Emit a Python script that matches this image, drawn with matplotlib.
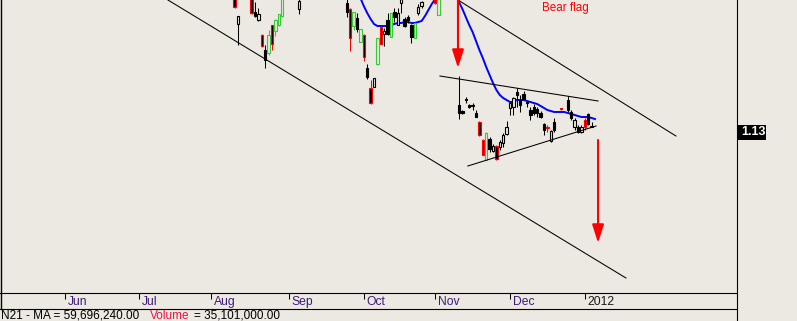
import numpy as np
import pandas as pd
import matplotlib
matplotlib.use('Agg')
import matplotlib.pyplot as plt
from matplotlib.lines import Line2D
from matplotlib.patches import Rectangle
from matplotlib.transforms import blended_transform_factory

plt.rcParams['font.family'] = ['Liberation Sans', 'DejaVu Sans']

# bar number = trading day counted from 2011-05-05
bars = [69, 70, 74, 75, 76, 77, 78, 79, 80, 81, 82, 83, 88,
        102, 103, 104, 105, 106, 107, 108, 109, 110, 111, 112, 113,
        114, 115, 116, 117, 118, 119, 120, 121, 122, 123, 124, 128, 129,
        135, 136, 137, 138, 139, 140, 141, 142, 143, 144, 145, 146, 147,
        148, 149, 150, 151, 152, 153, 154, 155, 156, 157, 158, 159, 160,
        161, 162, 163, 165, 167, 168, 169, 170, 171, 172, 173, 174, 175]
opens = [1.401, 1.343, 1.397, 1.367, 1.351, 1.321, 1.291, 1.285, 1.341, 1.329, 1.341, 1.359, 1.373,
         1.385, 1.373, 1.339, 1.355, 1.307, 1.321, 1.255, 1.215, 1.217, 1.263, 1.337, 1.323,
         1.351, 1.317, 1.367, 1.341, 1.385, 1.353, 1.357, 1.341, 1.315, 1.365, 1.379, 1.393, 1.361,
         1.181, 1.169, 1.193, 1.181, 1.181, 1.165, 1.147, 1.111, 1.071, 1.113, 1.089, 1.099, 1.097,
         1.105, 1.123, 1.175, 1.177, 1.201, 1.191, 1.203, 1.187, 1.171, 1.177, 1.173, 1.165, 1.143,
         1.137, 1.129, 1.131, 1.173, 1.191, 1.167, 1.151, 1.127, 1.137, 1.137, 1.163, 1.139, 1.137]
highs = [1.407, 1.359, 1.399, 1.387, 1.375, 1.323, 1.301, 1.331, 1.341, 1.353, 1.363, 1.405, 1.395,
         1.395, 1.375, 1.367, 1.365, 1.333, 1.323, 1.263, 1.231, 1.235, 1.315, 1.339, 1.335,
         1.365, 1.365, 1.375, 1.375, 1.395, 1.357, 1.361, 1.343, 1.345, 1.383, 1.389, 1.395, 1.401,
         1.239, 1.171, 1.197, 1.183, 1.185, 1.171, 1.149, 1.113, 1.127, 1.117, 1.103, 1.101, 1.111,
         1.125, 1.149, 1.187, 1.197, 1.215, 1.201, 1.209, 1.189, 1.177, 1.183, 1.177, 1.169, 1.145,
         1.141, 1.131, 1.155, 1.175, 1.199, 1.171, 1.155, 1.141, 1.141, 1.155, 1.165, 1.147, 1.139]
lows = [1.375, 1.301, 1.363, 1.357, 1.349, 1.297, 1.255, 1.281, 1.291, 1.319, 1.339, 1.357, 1.363,
        1.357, 1.289, 1.331, 1.327, 1.307, 1.269, 1.233, 1.183, 1.217, 1.261, 1.303, 1.299,
        1.321, 1.317, 1.347, 1.341, 1.365, 1.337, 1.345, 1.305, 1.315, 1.361, 1.375, 1.383, 1.361,
        1.153, 1.163, 1.185, 1.175, 1.171, 1.157, 1.119, 1.081, 1.071, 1.087, 1.087, 1.071, 1.091,
        1.097, 1.121, 1.161, 1.161, 1.177, 1.167, 1.191, 1.177, 1.151, 1.161, 1.157, 1.155, 1.121,
        1.127, 1.107, 1.127, 1.171, 1.167, 1.151, 1.131, 1.125, 1.125, 1.131, 1.141, 1.137, 1.125]
closes = [1.377, 1.359, 1.365, 1.359, 1.363, 1.299, 1.271, 1.321, 1.303, 1.351, 1.363, 1.399, 1.389,
          1.367, 1.315, 1.367, 1.333, 1.333, 1.277, 1.237, 1.185, 1.235, 1.315, 1.303, 1.329,
          1.323, 1.365, 1.357, 1.365, 1.393, 1.339, 1.351, 1.317, 1.345, 1.377, 1.387, 1.385, 1.397,
          1.165, 1.165, 1.191, 1.177, 1.179, 1.157, 1.121, 1.081, 1.125, 1.093, 1.099, 1.073, 1.107,
          1.121, 1.137, 1.185, 1.195, 1.207, 1.181, 1.193, 1.185, 1.161, 1.165, 1.165, 1.157, 1.131,
          1.135, 1.109, 1.147, 1.173, 1.171, 1.155, 1.137, 1.137, 1.127, 1.151, 1.143, 1.137, 1.127]
kinds = list('rwrkwrkgrgggw'
             'krgkgrkrwgrw'
             'kgkwwkkkgwwrg'
             'kkkkkkrrgkwrw'
             'wwwwkkkkkkkk'
             'krwkrkkwkwrkk')

ma_start = 106
ma_vals = [1.395, 1.379, 1.365, 1.353, 1.343, 1.339, 1.339, 1.339, 1.339, 1.341,
           1.343, 1.345, 1.345, 1.347, 1.347, 1.345, 1.345, 1.347, 1.349, 1.359,
           1.371, 1.383, 1.393, 1.405, 1.416, 1.424, 1.427, 1.423, 1.405, 1.387,
           1.373, 1.357, 1.341, 1.327, 1.309, 1.291, 1.275, 1.257, 1.241, 1.225,
           1.211, 1.201, 1.195, 1.191, 1.187, 1.187, 1.191, 1.191, 1.191, 1.189,
           1.187, 1.185, 1.183, 1.179, 1.175, 1.171, 1.169, 1.167, 1.167, 1.167,
           1.167, 1.165, 1.163, 1.161, 1.159, 1.157, 1.157, 1.157, 1.155, 1.153]

# drawn trend lines: (bar0, price0, bar1, price1)
trend_lines = [(49.4, 1.391, 184.1, 0.835),
               (134.7, 1.391, 198.8, 1.119),
               (129.4, 1.239, 175.9, 1.189),
               (137.6, 1.059, 175.3, 1.139)]
arrow_bars = [134.7, 175.9]
arrow_tops = [1.40, 1.111]
arrow_tips = [1.255, 0.905]

dates = pd.bdate_range('2011-05-05', periods=217)
month_pos = [i for i in range(1, bars[-1] + 1) if dates[i].month != dates[i - 1].month]
month_lab = [str(dates[i].year) if dates[i].month == 1 else dates[i].strftime('%b') for i in month_pos]

bg = '#ece8e2'
W, H = 797, 321
fig = plt.figure(figsize=(W / 100, H / 100), dpi=100, facecolor=bg)
ax = fig.add_axes([0, 28 / H, 736 / W, 293 / H], facecolor=bg)
ax.set_xlim(0, 736 / 3.4)
ax.set_ylim(0.805, 1.391)

edge = {'k': 'black', 'w': 'black', 'r': '#ff0000', 'g': '#33cc33'}
face = {'k': 'black', 'w': bg, 'r': 'black', 'g': bg}

for x, o, hi, lo, c, k in zip(bars, opens, highs, lows, closes, kinds):
    ax.vlines(x, lo, hi, color=edge[k], lw=0.75, zorder=3)
    ax.bar(x, max(abs(c - o), 0.0012), bottom=min(o, c), width=0.72,
           color=face[k], edgecolor=edge[k], linewidth=0.8, zorder=4)

ax.plot(np.arange(ma_start, ma_start + len(ma_vals)), ma_vals, color='#0000ff', lw=1.4, zorder=2)

for x0, y0, x1, y1 in trend_lines:
    ax.plot([x0, x1], [y0, y1], color='black', lw=0.75, zorder=5)

for x, top, tip in zip(arrow_bars, arrow_tops, arrow_tips):
    ax.annotate('', xy=(x, tip), xytext=(x, top), annotation_clip=False,
                arrowprops=dict(arrowstyle='-|>,head_length=1.1,head_width=0.35',
                                mutation_scale=10, color='#ff0000', lw=1.5,
                                shrinkA=0, shrinkB=0), zorder=6)

ax.text(159.4, 1.370, 'Bear flag', color='#ff0000', fontsize=8.4, va='baseline')

ax.set_yticks([])
ax.set_xticks(month_pos)
ax.tick_params(axis='x', length=4.3, width=0.75, direction='out', labelbottom=False, colors='black')
for s in ['top', 'right', 'left']:
    ax.spines[s].set_visible(False)
ax.spines['bottom'].set_linewidth(0.8)

for p, lab in zip(month_pos, month_lab):
    ax.annotate(lab, xy=(p, 0), xycoords=('data', 'axes fraction'), xytext=(2, -8.6),
                textcoords='offset points', va='baseline', ha='left', fontsize=8.7,
                color='#1a1a1a' if lab == '2012' else '#3d1a78', annotation_clip=False)

# frame lines
fig.add_artist(Line2D([736.5 / W, 736.5 / W], [0, 1], color='black', lw=0.8))
fig.add_artist(Line2D([0, 736.5 / W], [1 - 309 / H, 1 - 309 / H], color='black', lw=0.8))
fig.add_artist(Line2D([0.6 / W, 0.6 / W], [1 - 309 / H, 1], color='black', lw=1.0))

# last price label
tr = blended_transform_factory(fig.transFigure, ax.transData)
last = closes[-1]
fig.add_artist(Rectangle((737 / W, last - 0.015), 29 / W, 0.03, transform=tr,
                         facecolor='black', edgecolor='none'))
fig.text(741 / W, last, f'{last:.2f}', transform=tr, color='white', fontsize=9,
         fontweight='bold', va='center', ha='left')

base = 1 - 318.6 / H
fig.text(1 / W, base, 'N21 - MA = 59,696,240.00', fontsize=8.5, color='black', va='baseline')
fig.text(150 / W, base, 'Volume', fontsize=8.5, color='#ee1144', va='baseline')
fig.text(194 / W, base, '= 35,101,000.00', fontsize=8.5, color='black', va='baseline')

fig.savefig('out.png', dpi=100, facecolor=bg)
